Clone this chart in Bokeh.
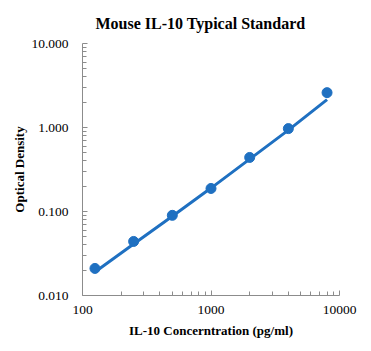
from bokeh.plotting import figure
from bokeh.models import NumeralTickFormatter, FixedTicker, Range1d
from bokeh.embed import file_html
from bokeh.resources import INLINE

conc = [125, 250, 500, 1000, 2000, 4000, 8000]
od = [0.021, 0.044, 0.090, 0.188, 0.44, 0.97, 2.6]
fit_conc = [125, 250, 500, 1000, 2000, 4000, 8000]
fit_od = [0.019, 0.041, 0.088, 0.19, 0.42, 0.93, 2.15]
x_ticks = [100, 1000, 10000]
y_ticks = [0.01, 0.1, 1, 10]

blue = "#1f70c1"
p = figure(width=371, height=351, x_axis_type="log", y_axis_type="log",
           x_range=Range1d(100, 10000), y_range=Range1d(0.01, 10),
           output_backend="svg", toolbar_location=None,
           title="Mouse IL-10 Typical Standard",
           min_border_left=82, min_border_right=32, min_border_top=0, min_border_bottom=56)
p.title.align = "left"
p.title.offset = 13
p.title.standoff = 24
p.title.text_color = "#000000"
p.title.text_font = "Liberation Serif"
p.title.text_font_size = "16px"
p.title.text_font_style = "bold"
p.outline_line_color = None
p.xgrid.visible = False
p.ygrid.visible = False

p.line(fit_conc, fit_od, line_color=blue, line_width=3)
p.scatter(conc, od, size=10, fill_color=blue, line_color=blue)

for ax in (p.xaxis[0], p.yaxis[0]):
    ax.axis_line_color = "#8c8c8c"
    ax.major_tick_line_color = "#8c8c8c"
    ax.minor_tick_line_color = "#8c8c8c"
    ax.major_tick_in = 5
    ax.major_tick_out = 0
    ax.minor_tick_in = 4
    ax.minor_tick_out = 0
    ax.major_label_text_font = "Liberation Serif"
    ax.major_label_text_font_size = "13.5px"
    ax.major_label_text_color = "#000000"
    ax.axis_label_text_font = "Liberation Serif"
    ax.axis_label_text_font_size = "13px"
    ax.axis_label_text_font_style = "bold"
    ax.axis_label_text_color = "#000000"

p.xaxis.ticker = FixedTicker(ticks=x_ticks, minor_ticks=[v * m for v in [100, 1000] for m in range(2, 10)])
p.yaxis.ticker = FixedTicker(ticks=y_ticks, minor_ticks=[v * m for v in [0.01, 0.1, 1] for m in range(2, 10)])
p.xaxis.formatter = NumeralTickFormatter(format="0")
p.yaxis.formatter = NumeralTickFormatter(format="0.000")
p.xaxis.axis_label = "IL-10 Concerntration (pg/ml)"
p.yaxis.axis_label = "Optical Density"
p.xaxis.major_label_standoff = 10
p.yaxis.major_label_standoff = 14
p.xaxis.axis_label_standoff = 6
p.yaxis.axis_label_standoff = 1

open("out.html", "w").write(file_html(p, INLINE))
